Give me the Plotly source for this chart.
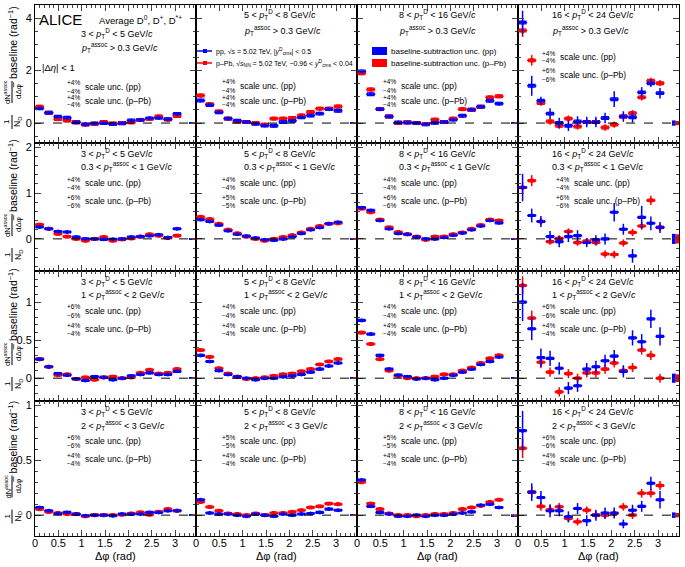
import numpy as np
import plotly.graph_objects as go
from plotly.subplots import make_subplots

FONT = "Liberation Sans, Arial, sans-serif"
BLUE = "rgb(0,0,255)"
RED = "rgb(255,0,0)"

# 16 delta-phi bins of width pi/16
dphi = [(i + 0.5) * np.pi / 16 for i in range(16)]
half_bin = np.pi / 32

ptd_labels = ["3 < <i>p</i><sub>T</sub><sup>D</sup> < 5 GeV/<i>c</i>",
              "5 < <i>p</i><sub>T</sub><sup>D</sup> < 8 GeV/<i>c</i>",
              "8 < <i>p</i><sub>T</sub><sup>D</sup> < 16 GeV/<i>c</i>",
              "16 < <i>p</i><sub>T</sub><sup>D</sup> < 24 GeV/<i>c</i>"]
assoc_labels = ["<i>p</i><sub>T</sub><sup>assoc</sup> > 0.3 GeV/<i>c</i>",
                "0.3 < <i>p</i><sub>T</sub><sup>assoc</sup> < 1 GeV/<i>c</i>",
                "1 < <i>p</i><sub>T</sub><sup>assoc</sup> < 2 GeV/<i>c</i>",
                "2 < <i>p</i><sub>T</sub><sup>assoc</sup> < 3 GeV/<i>c</i>"]

# scale uncertainties (%) per row, per column
scale_pp = [[4, 4, 4, 4], [4, 4, 4, 4], [6, 4, 4, 6], [6, 5, 5, 6]]
scale_ppb = [[4, 4, 4, 6], [6, 5, 6, 6], [4, 4, 4, 4], [4, 4, 4, 4]]

# ---- pTassoc > 0.3
pp_r1c1 = [0.56, 0.39, 0.24, 0.20, 0.03, -0.05, -0.02, 0.00, -0.04, -0.01, 0.10, 0.12, 0.18, 0.20, 0.15, 0.35]
ppb_r1c1 = [0.62, 0.39, 0.15, 0.10, 0.03, -0.06, -0.03, 0.04, -0.02, 0.00, 0.03, 0.12, 0.16, 0.25, 0.13, 0.27]
pp_r1c2 = [0.86, 0.69, 0.41, 0.17, 0.09, 0.04, -0.03, -0.09, -0.10, 0.04, 0.09, 0.22, 0.29, 0.36, 0.53, 0.47]
ppb_r1c2 = [1.05, 0.72, 0.44, 0.17, 0.06, 0.04, 0.00, -0.06, 0.17, 0.17, 0.19, 0.29, 0.42, 0.55, 0.55, 0.63]
pp_r1c3 = [1.97, 1.10, 0.53, 0.25, 0.02, 0.02, 0.00, -0.05, 0.01, 0.04, 0.13, 0.28, 0.51, 0.62, 0.85, 0.74]
ppb_r1c3 = [1.90, 1.28, 0.53, 0.25, 0.00, 0.03, 0.00, -0.04, 0.13, 0.04, 0.17, 0.53, 0.51, 0.62, 0.98, 1.02]
pp_r1c4 = [3.83, 1.42, 0.85, 0.36, 0.00, -0.10, 0.06, 0.04, 0.04, 0.19, 0.91, 0.25, 0.22, 1.17, 1.52, 1.14]
ppb_r1c4 = [3.53, 2.39, 0.76, 0.06, -0.10, 0.17, -0.13, 0.04, 0.04, -0.17, -0.06, 0.25, 0.38, 0.98, 1.61, 1.52]

# ---- 0.3 < pTassoc < 1
pp_r2c1 = [0.26, 0.22, 0.16, 0.15, 0.04, 0.00, 0.00, -0.01, -0.01, 0.00, 0.04, 0.05, 0.07, 0.09, 0.03, 0.22]
ppb_r2c1 = [0.31, 0.22, 0.11, 0.05, 0.00, -0.04, 0.00, 0.04, -0.04, -0.01, 0.01, 0.05, 0.10, 0.07, 0.02, 0.07]
pp_r2c2 = [0.42, 0.38, 0.30, 0.18, 0.10, 0.06, 0.02, -0.02, -0.03, 0.00, 0.05, 0.12, 0.20, 0.25, 0.33, 0.36]
ppb_r2c2 = [0.48, 0.43, 0.33, 0.20, 0.12, 0.05, 0.00, -0.04, 0.00, 0.04, 0.08, 0.14, 0.22, 0.28, 0.33, 0.34]
pp_r2c3 = [0.68, 0.62, 0.40, 0.22, 0.12, 0.10, 0.04, 0.00, 0.00, 0.03, 0.08, 0.13, 0.20, 0.28, 0.40, 0.35]
ppb_r2c3 = [0.66, 0.58, 0.42, 0.25, 0.15, 0.10, 0.05, -0.02, 0.05, 0.05, 0.10, 0.14, 0.22, 0.30, 0.42, 0.40]
pp_r2c4 = [1.12, 0.51, 0.38, 0.05, -0.06, 0.05, 0.07, -0.08, -0.02, 0.00, 0.58, 0.21, -0.37, 0.47, 0.34, 0.25]
ppb_r2c4 = [1.12, 1.27, 0.38, -0.06, 0.01, 0.16, -0.08, -0.05, -0.08, -0.33, -0.34, -0.09, 0.14, 0.28, 0.84, 0.25]

# ---- 1 < pTassoc < 2
pp_r3c1 = [0.25, 0.15, 0.06, 0.04, -0.01, -0.03, 0.02, 0.01, -0.02, 0.00, 0.03, 0.05, 0.07, 0.05, 0.05, 0.09]
ppb_r3c1 = [0.25, 0.15, 0.04, 0.05, -0.01, 0.01, -0.02, 0.01, 0.02, 0.00, 0.01, 0.07, 0.11, 0.06, 0.07, 0.12]
pp_r3c2 = [0.30, 0.22, 0.10, 0.05, 0.02, 0.00, -0.02, 0.00, 0.00, 0.02, 0.03, 0.05, 0.08, 0.12, 0.16, 0.20]
ppb_r3c2 = [0.37, 0.28, 0.13, 0.06, 0.02, -0.01, 0.00, 0.01, 0.03, 0.05, 0.06, 0.09, 0.12, 0.18, 0.22, 0.25]
pp_r3c3 = [0.76, 0.58, 0.30, 0.12, 0.04, 0.02, -0.01, 0.00, -0.02, 0.00, 0.04, 0.08, 0.12, 0.18, 0.22, 0.28]
ppb_r3c3 = [0.60, 0.45, 0.25, 0.10, 0.03, 0.00, 0.00, 0.00, 0.02, 0.05, 0.05, 0.10, 0.14, 0.20, 0.26, 0.30]
pp_r3c4 = [1.00, 0.65, 0.27, 0.26, 0.13, -0.13, -0.10, 0.12, 0.15, 0.23, 0.29, 0.09, 0.53, 0.48, 0.78, 0.55]
ppb_r3c4 = [1.22, 0.79, 0.21, 0.08, -0.18, 0.06, 0.00, 0.07, 0.07, 0.12, 0.20, 0.10, 0.14, 0.37, 0.30, 0.00]

# ---- 2 < pTassoc < 3
pp_r4c1 = [0.07, 0.04, 0.015, 0.025, 0.01, -0.005, 0.00, 0.00, -0.005, 0.01, 0.01, 0.01, 0.025, 0.025, 0.04, 0.04]
ppb_r4c1 = [0.055, 0.03, 0.02, 0.01, 0.01, -0.01, 0.00, 0.00, 0.00, 0.005, 0.015, 0.025, 0.005, 0.03, 0.055, 0.04]
pp_r4c2 = [0.14, 0.02, 0.01, 0.01, 0.00, -0.01, 0.01, 0.00, -0.01, 0.01, 0.00, 0.01, 0.015, 0.025, 0.055, 0.045]
ppb_r4c2 = [0.12, 0.075, 0.04, 0.015, 0.01, 0.00, 0.015, 0.00, 0.02, 0.02, 0.03, 0.045, 0.07, 0.08, 0.105, 0.10]
pp_r4c3 = [0.32, 0.08, 0.025, 0.01, -0.01, -0.01, 0.00, -0.01, 0.00, 0.00, 0.01, 0.02, 0.03, 0.09, 0.10, 0.07]
ppb_r4c3 = [0.30, 0.105, 0.055, 0.015, 0.00, 0.00, -0.01, 0.00, 0.01, 0.01, 0.02, 0.055, 0.07, 0.085, 0.12, 0.14]
pp_r4c4 = [0.77, 0.21, 0.16, 0.04, 0.04, -0.015, 0.06, -0.05, 0.00, 0.02, 0.02, -0.08, 0.045, 0.08, 0.29, 0.14]
ppb_r4c4 = [0.61, 0.21, 0.08, 0.05, 0.076, -0.03, -0.06, 0.045, 0.00, 0.00, 0.015, 0.076, 0.00, 0.20, 0.20, 0.27]

# statistical uncertainties (low-pT columns share one list per row)
err_r1 = [0.06, 0.05, 0.05, 0.05, 0.04, 0.04, 0.04, 0.04, 0.04, 0.04, 0.04, 0.04, 0.04, 0.05, 0.05, 0.06]
err_r2 = [0.03, 0.03, 0.025, 0.025, 0.02, 0.02, 0.02, 0.02, 0.02, 0.02, 0.02, 0.02, 0.025, 0.025, 0.03, 0.03]
err_r3 = [0.02, 0.02, 0.015, 0.015, 0.012, 0.012, 0.012, 0.012, 0.012, 0.012, 0.012, 0.012, 0.015, 0.015, 0.02, 0.02]
err_r4 = [0.012, 0.01, 0.008, 0.008, 0.007, 0.007, 0.007, 0.007, 0.007, 0.007, 0.007, 0.007, 0.008, 0.008, 0.01, 0.012]
err_pp_r1c4 = [0.45, 0.38, 0.15, 0.20, 0.20, 0.20, 0.20, 0.20, 0.20, 0.20, 0.30, 0.20, 0.20, 0.20, 0.15, 0.20]
err_ppb_r1c4 = [0.25, 0.20, 0.10, 0.12, 0.12, 0.12, 0.12, 0.12, 0.12, 0.12, 0.12, 0.12, 0.12, 0.12, 0.12, 0.12]
err_pp_r2c4 = [0.30, 0.15, 0.12, 0.12, 0.12, 0.12, 0.12, 0.10, 0.10, 0.12, 0.20, 0.12, 0.15, 0.25, 0.15, 0.12]
err_ppb_r2c4 = [0.12, 0.12, 0.08, 0.07, 0.07, 0.07, 0.07, 0.07, 0.07, 0.08, 0.08, 0.08, 0.08, 0.08, 0.10, 0.08]
err_pp_r3c4 = [0.25, 0.15, 0.12, 0.10, 0.08, 0.08, 0.08, 0.08, 0.08, 0.08, 0.08, 0.08, 0.10, 0.10, 0.12, 0.12]
err_ppb_r3c4 = [0.12, 0.10, 0.08, 0.06, 0.06, 0.06, 0.06, 0.06, 0.06, 0.06, 0.06, 0.06, 0.06, 0.06, 0.06, 0.06]
err_pp_r4c4 = [0.18, 0.08, 0.06, 0.06, 0.05, 0.05, 0.05, 0.05, 0.05, 0.05, 0.05, 0.04, 0.05, 0.05, 0.06, 0.08]
err_ppb_r4c4 = [0.09, 0.05, 0.04, 0.04, 0.035, 0.035, 0.035, 0.035, 0.035, 0.035, 0.035, 0.035, 0.035, 0.04, 0.04, 0.04]

# systematic box half heights per row
sys_row = [0.05, 0.02, 0.012, 0.008]
# baseline-subtraction uncertainty (pp, p-Pb) per row, per column
base_pp = [[0.02, 0.02, 0.02, 0.10], [0.01, 0.01, 0.015, 0.11], [0.01, 0.01, 0.01, 0.06], [0.005, 0.005, 0.008, 0.025]]
base_ppb = [[0.02, 0.02, 0.02, 0.08], [0.01, 0.01, 0.015, 0.10], [0.01, 0.01, 0.01, 0.05], [0.005, 0.005, 0.008, 0.02]]

pp_data = [[pp_r1c1, pp_r1c2, pp_r1c3, pp_r1c4], [pp_r2c1, pp_r2c2, pp_r2c3, pp_r2c4],
           [pp_r3c1, pp_r3c2, pp_r3c3, pp_r3c4], [pp_r4c1, pp_r4c2, pp_r4c3, pp_r4c4]]
ppb_data = [[ppb_r1c1, ppb_r1c2, ppb_r1c3, ppb_r1c4], [ppb_r2c1, ppb_r2c2, ppb_r2c3, ppb_r2c4],
            [ppb_r3c1, ppb_r3c2, ppb_r3c3, ppb_r3c4], [ppb_r4c1, ppb_r4c2, ppb_r4c3, ppb_r4c4]]
err_low = [err_r1, err_r2, err_r3, err_r4]
err_pp_hi = [err_pp_r1c4, err_pp_r2c4, err_pp_r3c4, err_pp_r4c4]
err_ppb_hi = [err_ppb_r1c4, err_ppb_r2c4, err_ppb_r3c4, err_ppb_r4c4]

yranges = [[-0.76, 4.5], [-0.7, 2.09], [-0.3, 1.41], [-0.19, 1.04]]
ydtick = [2, 1, 0.5, 0.5]
yminor = [0.5, 0.2, 0.1, 0.1]

W, H = 685, 567
L, R, T, B = 35, 6, 5, 31
row_h = [138, 128, 130, 135]
row_top = [5, 143, 271, 401]
col_left = [35, 196, 357, 518]

fig = make_subplots(rows=4, cols=4, horizontal_spacing=0, vertical_spacing=0,
                    row_heights=row_h)


def px(x):
    return (x - L) / (W - L - R)


def py(y):
    return (H - B - y) / (H - T - B)


def note(text, x, y, size=9, xanchor="left", angle=0):
    fig.add_annotation(text=text, x=px(x), y=py(y), xref="paper", yref="paper",
                       showarrow=False, xanchor=xanchor, yanchor="middle", textangle=angle,
                       font=dict(size=size, family=FONT, color="black"))


def add_series(vals, err, sys, color, symbol, r, c):
    fig.add_trace(go.Bar(x=dphi, y=[2 * sys] * len(vals), base=[v - sys for v in vals],
                         width=0.14, marker=dict(color="rgba(0,0,0,0)", line=dict(color=color, width=1.3)),
                         showlegend=False, hoverinfo="skip"), row=r, col=c)
    fig.add_trace(go.Scatter(x=dphi, y=vals, mode="markers",
                             marker=dict(symbol=symbol, size=4, color=color),
                             error_x=dict(type="constant", value=half_bin, thickness=1.5, width=0, color=color),
                             error_y=dict(type="data", array=err, thickness=1.5, width=0, color=color),
                             showlegend=False), row=r, col=c)


for r in range(4):
    for c in range(4):
        if c == 3:
            e_pp, e_ppb = err_pp_hi[r], err_ppb_hi[r]
        else:
            e_pp, e_ppb = err_low[r], err_low[r]
        add_series(ppb_data[r][c], e_ppb, sys_row[r], RED, "square", r + 1, c + 1)
        add_series(pp_data[r][c], e_pp, sys_row[r], BLUE, "circle", r + 1, c + 1)
        # baseline-subtraction uncertainty boxes
        bp, bb = base_pp[r][c], base_ppb[r][c]
        fig.add_trace(go.Bar(x=[3.34], y=[2 * bp], base=[-bp], width=0.08, marker_color=BLUE,
                             marker_line_width=0, showlegend=False), row=r + 1, col=c + 1)
        fig.add_trace(go.Bar(x=[3.42], y=[2 * bb], base=[-bb], width=0.08, marker_color=RED,
                             marker_line_width=0, showlegend=False), row=r + 1, col=c + 1)
        fig.add_hline(y=0, line_dash="dash", line_color="black", line_width=1, row=r + 1, col=c + 1)

        fig.update_xaxes(range=[0, 3.45], dtick=0.5, tick0=0, ticks="inside", ticklen=6,
                         minor=dict(dtick=0.1, ticklen=3, ticks="inside"),
                         showline=True, linecolor="black", linewidth=1, mirror="allticks",
                         showgrid=False, zeroline=False, showticklabels=(r == 3), automargin=False,
                         ticklabelstandoff=-3,
                         tickfont=dict(size=11, family=FONT, color="black"),
                         row=r + 1, col=c + 1)
        fig.update_yaxes(range=yranges[r], dtick=ydtick[r], tick0=0, ticks="inside", ticklen=6,
                         minor=dict(dtick=yminor[r], ticklen=3, ticks="inside"),
                         showline=True, linecolor="black", linewidth=1, mirror="allticks",
                         showgrid=False, zeroline=False, showticklabels=(c == 0), automargin=False,
                         tickfont=dict(size=11, family=FONT, color="black"),
                         row=r + 1, col=c + 1)

        # panel texts
        top = row_top[r]
        x0 = col_left[c]
        if r == 0:
            offs = [28, 42, 82, 96] if c == 0 else ([10, 26, 52, 70] if c == 3 else [10, 26, 81, 96])
        else:
            offs = [10, 24, 40, 58]
        tx = [44, 46, 40, 32][c]
        note(ptd_labels[c], x0 + tx, top + offs[0])
        note(assoc_labels[r], x0 + tx, top + offs[1])
        sx = [48, 42, 42, 40][c]
        if r == 1 and c == 3:
            sx = 54
        for k, (lab, pct) in enumerate([("scale unc. (pp)", scale_pp[r][c]),
                                        ("scale unc. (p\u2013Pb)", scale_ppb[r][c])]):
            yy = top + offs[2 + k]
            note("+%d%%" % pct, x0 + sx - 1, yy - 4, size=6.5, xanchor="right")
            note("\u2212%d%%" % pct, x0 + sx - 1, yy + 4, size=6.5, xanchor="right")
            note(lab, x0 + sx, yy, size=8.5)

# header texts in the first panel
note("ALICE", 37, 20, size=15)
note("Average D<sup>0</sup>, D<sup>+</sup>, D<sup>*+</sup>", 97, 20, size=9.5)
note("|\u0394<i>\u03b7</i>| < 1", 40, 67, size=9.5)

# legend for the data series (second panel)
for yy, color, symbol, txt in [
        (51, BLUE, "circle", "pp, \u221a<i>s</i> = 5.02 TeV, |<i>y</i><sup>D</sup><sub>cms</sub>| < 0.5"),
        (63, RED, "square", "p\u2013Pb, \u221a<i>s</i><sub>NN</sub> = 5.02 TeV, \u22120.96 < <i>y</i><sup>D</sup><sub>cms</sub> < 0.04")]:
    fig.add_shape(type="line", xref="paper", yref="paper", x0=px(197), x1=px(212), y0=py(yy), y1=py(yy),
                  line=dict(color=color, width=1.5))
    fig.add_shape(type="rect", xref="paper", yref="paper", x0=px(203), x1=px(207), y0=py(yy - 2), y1=py(yy + 2),
                  line=dict(color=color, width=0), fillcolor=color)
    note(txt, 214, yy, size=7)

# legend for baseline-subtraction uncertainties (third panel)
for yy, color, txt in [(51, BLUE, "baseline-subtraction unc. (pp)"),
                       (63, RED, "baseline-subtraction unc. (p\u2013Pb)")]:
    fig.add_shape(type="rect", xref="paper", yref="paper", x0=px(372), x1=px(387), y0=py(yy - 4), y1=py(yy + 4),
                  line=dict(width=0), fillcolor=color)
    note(txt, 389, yy, size=8)

# y axis titles, one per row: "1/N_D dN^assoc/dphi - baseline (rad^-1)" built from pieces,
# centred on the row
for r in range(4):
    cy = row_top[r] + row_h[r] / 2
    note("\u2212 baseline (rad<sup>\u22121</sup>)", 12, cy - 27, size=10.5, xanchor="center", angle=-90)
    note("dN<sup>assoc</sup>", 7, cy + 18, size=7.5, xanchor="center", angle=-90)
    note("d\u0394\u03c6", 18, cy + 18, size=8, xanchor="center", angle=-90)
    fig.add_shape(type="line", xref="paper", yref="paper", x0=px(12), x1=px(12),
                  y0=py(cy + 7), y1=py(cy + 29), line=dict(color="black", width=1))
    note("1", 7, cy + 48, size=8, xanchor="center", angle=-90)
    note("N<sub>D</sub>", 18, cy + 48, size=8.5, xanchor="center", angle=-90)
    fig.add_shape(type="line", xref="paper", yref="paper", x0=px(12), x1=px(12),
                  y0=py(cy + 41), y1=py(cy + 55), line=dict(color="black", width=1))

# x axis titles
for c in range(4):
    note("\u0394\u03c6 (rad)", col_left[c] + 80, 556, size=11, xanchor="center")

fig.update_layout(width=W, height=H, margin=dict(l=L, r=R, t=T, b=B, autoexpand=False),
                  plot_bgcolor="white", paper_bgcolor="white", barmode="overlay",
                  showlegend=False, font=dict(family=FONT, color="black"))

# the page body has a default 8px margin; drop it so the figure sits at the window corner
fig.write_html("out.html", config={"displayModeBar": False},
               post_script="document.body.style.margin='0';")
